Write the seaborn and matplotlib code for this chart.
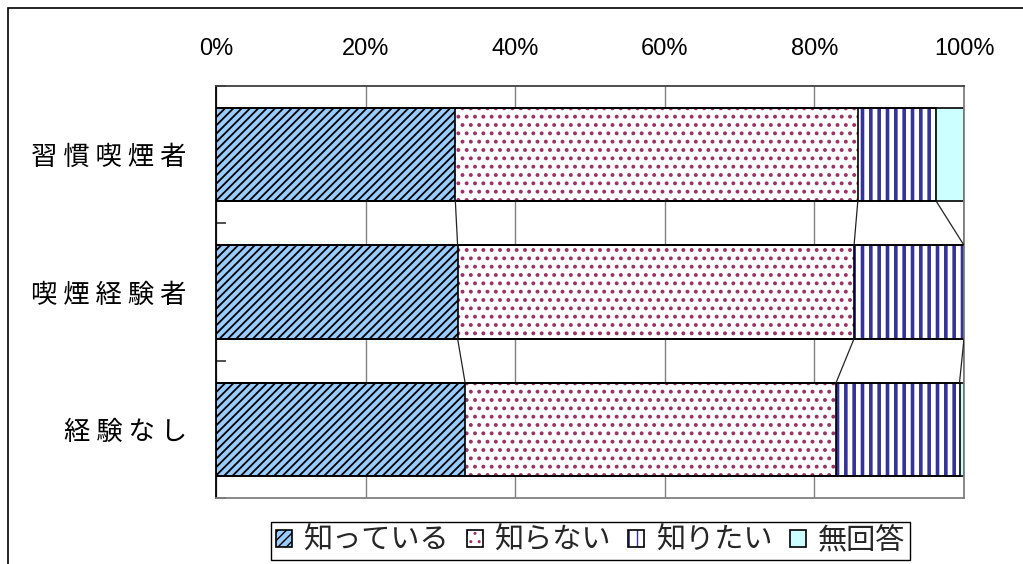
import numpy as np
import pandas as pd
import matplotlib
matplotlib.use("Agg")
import matplotlib.pyplot as plt
import seaborn as sns
from matplotlib.patches import Patch, Rectangle

# ---- data ----
categories = ["習慣喫煙者", "喫煙経験者", "経験なし"]
series_names = ["知っている", "知らない", "知りたい", "無回答"]
know = [32.0, 32.3, 33.3]
dont_know = [53.8, 53.0, 49.6]
want_know = [10.5, 14.7, 16.5]
no_answer = [3.7, 0.0, 0.6]
tick_values = [0, 20, 40, 60, 80, 100]
tick_labels = ["0%", "20%", "40%", "60%", "80%", "100%"]

# ---- styles ----
face_colors = ["#99CCFF", "#FFFFFF", "#FFFFFF", "#CCFFFF"]
hatch_colors = ["#000000", "#993366", "#333399", "#CCFFFF"]
hatches = ["////", "..", "||", None]
hatch_lws = [1.3, 1.6, 2.6, 0.0]

sns.set_theme(style="white")
plt.rcParams["font.family"] = ["Noto Sans CJK JP", "DejaVu Sans"]

W, H = 1023, 564
fig = plt.figure(figsize=(W / 100, H / 100), dpi=100)
fig.patch.set_facecolor("white")
ax = fig.add_axes([216 / W, 1 - 498 / H, (964 - 216) / W, (498 - 86) / H])

values = np.array([know, dont_know, want_know, no_answer])
cum = np.cumsum(values, axis=0)
bar_w = 0.68

# fill / hatch layers (largest cumulative first)
for i in reversed(range(len(series_names))):
    layer = pd.DataFrame({"category": categories, "value": cum[i]})
    n0 = len(ax.patches)
    sns.barplot(data=layer, x="value", y="category", orient="h", width=bar_w,
                color=face_colors[i], saturation=1, ax=ax, errorbar=None)
    for p in ax.patches[n0:]:
        p.set_facecolor(face_colors[i])
        if hatches[i]:
            p.set_hatch(hatches[i])
        p.set_edgecolor(hatch_colors[i])
        p.set_linewidth(0)
        if hasattr(p, "set_hatch_linewidth"):
            p.set_hatch_linewidth(hatch_lws[i])

# outline layers
for i in range(len(series_names)):
    layer = pd.DataFrame({"category": categories, "value": cum[i]})
    n0 = len(ax.patches)
    sns.barplot(data=layer, x="value", y="category", orient="h", width=bar_w,
                color="black", saturation=1, ax=ax, errorbar=None)
    for p in ax.patches[n0:]:
        p.set_facecolor("none")
        p.set_hatch(None)
        p.set_edgecolor("black")
        p.set_linewidth(1.2)

# series lines connecting bars
for i in range(len(series_names)):
    for j in range(len(categories) - 1):
        ax.plot([cum[i][j], cum[i][j + 1]], [j + bar_w / 2, j + 1 - bar_w / 2],
                color="#222222", lw=0.9, zorder=3)

ax.set_xlim(0, 100)
ax.set_ylim(len(categories) - 0.5, -0.5)
ax.set_xlabel("")
ax.set_ylabel("")

ax.xaxis.tick_top()
ax.set_xticks(tick_values)
ax.set_xticklabels(tick_labels, fontsize=17, family=["Liberation Sans", "DejaVu Sans"])
ax.tick_params(axis="x", length=0, pad=19, colors="black")

ax.set_yticks(range(len(categories)))
ax.set_yticklabels([" ".join(list(c)) for c in categories], fontsize=19)
ax.tick_params(axis="y", which="major", length=0, pad=21, colors="black")
ax.set_yticks(np.arange(-0.5, len(categories), 1.0), minor=True)
ax.tick_params(axis="y", which="minor", direction="in", length=7, width=1.2,
               color="#333333", left=True)

ax.grid(axis="x", color="#808080", lw=1)
ax.grid(axis="y", visible=False)
ax.set_axisbelow(True)

for side, col in [("left", "#000000"), ("top", "#404040"),
                  ("right", "#808080"), ("bottom", "#808080")]:
    ax.spines[side].set_visible(True)
    ax.spines[side].set_color(col)
    ax.spines[side].set_linewidth(1.3)

# legend
handles = []
for i in range(len(series_names)):
    fill = Patch(facecolor=face_colors[i], edgecolor=hatch_colors[i],
                 hatch=hatches[i], linewidth=0)
    if hasattr(fill, "set_hatch_linewidth"):
        fill.set_hatch_linewidth(hatch_lws[i])
    outline = Patch(facecolor="none", edgecolor="black", linewidth=1.2)
    handles.append((fill, outline))
leg = fig.legend(handles, series_names, loc="center",
                 bbox_to_anchor=(590.5 / W, 1 - 541 / H), ncol=4,
                 frameon=True, fancybox=False, framealpha=1, edgecolor="black",
                 fontsize=21, handlelength=0.55, handleheight=0.55,
                 handletextpad=0.4, columnspacing=0.6, borderpad=0.15,
                 borderaxespad=0)
leg.get_frame().set_linewidth(1.0)

# outer chart border
fig.add_artist(Rectangle((8 / W, -0.1), 1.2, 1 - 8 / H + 0.1,
                         transform=fig.transFigure, fill=False,
                         edgecolor="black", lw=1.2))

fig.savefig("out.png", dpi=100, facecolor="white")
